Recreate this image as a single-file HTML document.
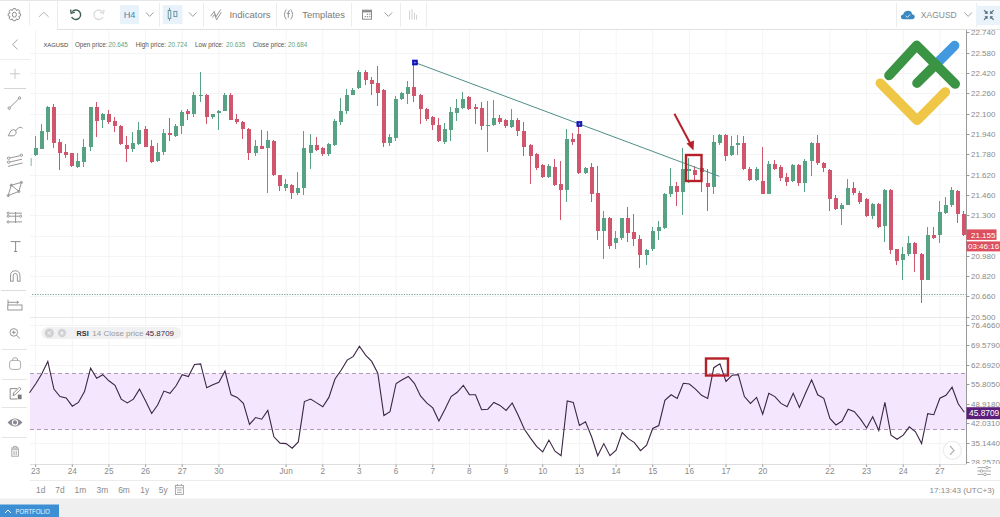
<!DOCTYPE html>
<html><head><meta charset="utf-8"><style>
html,body{margin:0;padding:0;background:#fff;}
body{width:1000px;height:517px;overflow:hidden;font-family:"Liberation Sans", sans-serif;}
svg{display:block;font-family:"Liberation Sans", sans-serif;}
</style></head><body>
<svg width="1000" height="517" viewBox="0 0 1000 517">
<line x1="35.6" y1="30" x2="35.6" y2="464" stroke="#f4f4f4" stroke-width="1"/>
<line x1="72.3" y1="30" x2="72.3" y2="464" stroke="#f4f4f4" stroke-width="1"/>
<line x1="108.9" y1="30" x2="108.9" y2="464" stroke="#f4f4f4" stroke-width="1"/>
<line x1="145.6" y1="30" x2="145.6" y2="464" stroke="#f4f4f4" stroke-width="1"/>
<line x1="182.2" y1="30" x2="182.2" y2="464" stroke="#f4f4f4" stroke-width="1"/>
<line x1="218.9" y1="30" x2="218.9" y2="464" stroke="#f4f4f4" stroke-width="1"/>
<line x1="286.1" y1="30" x2="286.1" y2="464" stroke="#f4f4f4" stroke-width="1"/>
<line x1="322.8" y1="30" x2="322.8" y2="464" stroke="#f4f4f4" stroke-width="1"/>
<line x1="359.4" y1="30" x2="359.4" y2="464" stroke="#f4f4f4" stroke-width="1"/>
<line x1="396.1" y1="30" x2="396.1" y2="464" stroke="#f4f4f4" stroke-width="1"/>
<line x1="432.8" y1="30" x2="432.8" y2="464" stroke="#f4f4f4" stroke-width="1"/>
<line x1="469.4" y1="30" x2="469.4" y2="464" stroke="#f4f4f4" stroke-width="1"/>
<line x1="506.1" y1="30" x2="506.1" y2="464" stroke="#f4f4f4" stroke-width="1"/>
<line x1="542.7" y1="30" x2="542.7" y2="464" stroke="#f4f4f4" stroke-width="1"/>
<line x1="579.4" y1="30" x2="579.4" y2="464" stroke="#f4f4f4" stroke-width="1"/>
<line x1="616.1" y1="30" x2="616.1" y2="464" stroke="#f4f4f4" stroke-width="1"/>
<line x1="652.7" y1="30" x2="652.7" y2="464" stroke="#f4f4f4" stroke-width="1"/>
<line x1="689.4" y1="30" x2="689.4" y2="464" stroke="#f4f4f4" stroke-width="1"/>
<line x1="726.0" y1="30" x2="726.0" y2="464" stroke="#f4f4f4" stroke-width="1"/>
<line x1="762.7" y1="30" x2="762.7" y2="464" stroke="#f4f4f4" stroke-width="1"/>
<line x1="829.9" y1="30" x2="829.9" y2="464" stroke="#f4f4f4" stroke-width="1"/>
<line x1="866.6" y1="30" x2="866.6" y2="464" stroke="#f4f4f4" stroke-width="1"/>
<line x1="903.2" y1="30" x2="903.2" y2="464" stroke="#f4f4f4" stroke-width="1"/>
<line x1="939.9" y1="30" x2="939.9" y2="464" stroke="#f4f4f4" stroke-width="1"/>
<line x1="30" y1="53.5" x2="966" y2="53.5" stroke="#f4f4f4" stroke-width="1"/>
<line x1="30" y1="73.5" x2="966" y2="73.5" stroke="#f4f4f4" stroke-width="1"/>
<line x1="30" y1="93.5" x2="966" y2="93.5" stroke="#f4f4f4" stroke-width="1"/>
<line x1="30" y1="114.5" x2="966" y2="114.5" stroke="#f4f4f4" stroke-width="1"/>
<line x1="30" y1="134.5" x2="966" y2="134.5" stroke="#f4f4f4" stroke-width="1"/>
<line x1="30" y1="154.5" x2="966" y2="154.5" stroke="#f4f4f4" stroke-width="1"/>
<line x1="30" y1="175.5" x2="966" y2="175.5" stroke="#f4f4f4" stroke-width="1"/>
<line x1="30" y1="195.5" x2="966" y2="195.5" stroke="#f4f4f4" stroke-width="1"/>
<line x1="30" y1="215.5" x2="966" y2="215.5" stroke="#f4f4f4" stroke-width="1"/>
<line x1="30" y1="236.5" x2="966" y2="236.5" stroke="#f4f4f4" stroke-width="1"/>
<line x1="30" y1="256.5" x2="966" y2="256.5" stroke="#f4f4f4" stroke-width="1"/>
<line x1="30" y1="276.5" x2="966" y2="276.5" stroke="#f4f4f4" stroke-width="1"/>
<line x1="30" y1="296.5" x2="966" y2="296.5" stroke="#f4f4f4" stroke-width="1"/>
<line x1="30" y1="317.5" x2="966" y2="317.5" stroke="#f4f4f4" stroke-width="1"/>
<line x1="30" y1="325.5" x2="966" y2="325.5" stroke="#f4f4f4" stroke-width="1"/>
<line x1="30" y1="345.5" x2="966" y2="345.5" stroke="#f4f4f4" stroke-width="1"/>
<line x1="30" y1="365.5" x2="966" y2="365.5" stroke="#f4f4f4" stroke-width="1"/>
<line x1="30" y1="384.5" x2="966" y2="384.5" stroke="#f4f4f4" stroke-width="1"/>
<line x1="30" y1="404.5" x2="966" y2="404.5" stroke="#f4f4f4" stroke-width="1"/>
<line x1="30" y1="423.5" x2="966" y2="423.5" stroke="#f4f4f4" stroke-width="1"/>
<line x1="30" y1="443.5" x2="966" y2="443.5" stroke="#f4f4f4" stroke-width="1"/>
<line x1="30" y1="317.5" x2="966" y2="317.5" stroke="#e8e8e8" stroke-width="1"/>
<line x1="32" y1="294.5" x2="966" y2="294.5" stroke="#7aa8a0" stroke-width="1" stroke-dasharray="1.3 1.3"/>
<rect x="30" y="373.5" width="936" height="56" fill="#f4e6fc"/>
<line x1="30" y1="373.5" x2="966" y2="373.5" stroke="#b09ab8" stroke-width="1" stroke-dasharray="4 3"/>
<line x1="30" y1="429.5" x2="966" y2="429.5" stroke="#b09ab8" stroke-width="1" stroke-dasharray="4 3"/>
<polyline points="29.5,392.8 35.6,384.0 41.7,374.0 47.8,361.4 53.9,389.1 60.0,396.6 66.2,397.9 72.3,406.2 78.4,402.4 84.5,391.6 90.6,368.2 96.7,378.2 102.8,374.7 108.9,380.8 115.0,385.3 121.2,399.1 127.3,402.9 133.4,399.1 139.5,389.1 145.6,400.9 151.7,413.5 157.8,404.7 163.9,391.1 170.0,393.3 176.1,385.8 182.2,374.7 188.4,376.5 194.5,364.4 200.6,363.9 206.7,387.8 212.8,384.8 218.9,382.3 225.0,371.0 231.1,394.8 237.2,397.4 243.4,403.4 249.5,424.3 255.6,417.5 261.7,419.2 267.8,410.4 273.9,436.8 280.0,443.1 286.1,443.6 292.2,448.2 298.3,441.9 304.4,401.6 310.6,399.1 316.7,402.9 322.8,406.7 328.9,397.4 335.0,379.0 341.1,370.2 347.2,360.1 353.3,356.4 359.4,346.3 365.6,355.1 371.7,361.4 377.8,373.2 383.9,415.5 390.0,411.7 396.1,383.5 402.2,379.8 408.3,376.5 414.4,383.3 420.5,395.9 426.7,402.9 432.8,407.9 438.9,421.0 445.0,409.2 451.1,396.6 457.2,392.3 463.3,385.3 469.4,394.6 475.5,394.8 481.6,409.7 487.8,409.2 493.9,402.4 500.0,405.4 506.1,410.4 512.2,402.9 518.3,415.5 524.4,429.3 530.5,438.1 536.6,446.4 542.7,451.9 548.9,440.1 555.0,451.2 561.1,455.7 567.2,400.9 573.3,402.4 579.4,425.5 585.5,421.7 591.6,436.8 597.7,455.7 603.8,443.6 610.0,455.7 616.1,450.2 622.2,432.6 628.3,438.6 634.4,442.6 640.5,450.7 646.6,445.1 652.7,428.5 658.8,425.5 664.9,400.4 671.1,394.8 677.2,398.4 683.3,383.3 689.4,384.0 695.5,389.1 701.6,395.3 707.7,398.4 713.8,367.7 719.9,363.9 726.0,381.5 732.2,375.2 738.3,374.7 744.4,396.6 750.5,403.4 756.6,397.4 762.7,414.2 768.8,393.3 774.9,396.6 781.0,403.4 787.1,406.7 793.2,393.3 799.4,407.4 805.5,393.3 811.6,379.8 817.7,394.8 823.8,398.4 829.9,418.5 836.0,425.0 842.1,421.0 848.2,409.2 854.4,411.7 860.5,419.2 866.6,428.0 872.7,416.7 878.8,430.5 884.9,402.4 891.0,435.1 897.1,439.3 903.2,435.1 909.3,426.8 915.5,431.8 921.6,443.6 927.7,413.6 933.8,414.7 939.9,398.2 946.0,395.3 952.1,387.2 958.2,403.7 964.3,412.2" fill="none" stroke="#3c2545" stroke-width="1.1"/>
<clipPath id="cc"><rect x="30.5" y="30" width="936" height="288"/></clipPath><g clip-path="url(#cc)">
<line x1="31" y1="158" x2="31" y2="166" stroke="#56a283" stroke-width="1"/>
<line x1="35.5" y1="136" x2="35.5" y2="156" stroke="#56a283" stroke-width="1"/>
<rect x="34" y="148" width="4" height="7" fill="#56a283"/>
<line x1="41.5" y1="124" x2="41.5" y2="149" stroke="#56a283" stroke-width="1"/>
<rect x="40" y="131" width="4" height="18" fill="#56a283"/>
<line x1="47.5" y1="106" x2="47.5" y2="140" stroke="#56a283" stroke-width="1"/>
<rect x="46" y="107" width="4" height="25" fill="#56a283"/>
<line x1="53.5" y1="104" x2="53.5" y2="148" stroke="#cf566d" stroke-width="1"/>
<rect x="52" y="107" width="4" height="36" fill="#cf566d"/>
<line x1="59.5" y1="139" x2="59.5" y2="170" stroke="#cf566d" stroke-width="1"/>
<rect x="58" y="142" width="4" height="11" fill="#cf566d"/>
<line x1="65.5" y1="144" x2="65.5" y2="158" stroke="#cf566d" stroke-width="1"/>
<rect x="64" y="152" width="4" height="3" fill="#cf566d"/>
<line x1="71.5" y1="153" x2="71.5" y2="167" stroke="#cf566d" stroke-width="1"/>
<rect x="70" y="153" width="4" height="13" fill="#cf566d"/>
<line x1="77.5" y1="153" x2="77.5" y2="168" stroke="#56a283" stroke-width="1"/>
<rect x="76" y="161" width="4" height="6" fill="#56a283"/>
<line x1="83.5" y1="139" x2="83.5" y2="167" stroke="#56a283" stroke-width="1"/>
<rect x="82" y="147" width="4" height="15" fill="#56a283"/>
<line x1="90.5" y1="107" x2="90.5" y2="151" stroke="#56a283" stroke-width="1"/>
<rect x="89" y="107" width="4" height="40" fill="#56a283"/>
<line x1="96.5" y1="102" x2="96.5" y2="137" stroke="#cf566d" stroke-width="1"/>
<rect x="95" y="107" width="4" height="14" fill="#cf566d"/>
<line x1="102.5" y1="113" x2="102.5" y2="128" stroke="#56a283" stroke-width="1"/>
<rect x="101" y="114" width="4" height="6" fill="#56a283"/>
<line x1="108.5" y1="110" x2="108.5" y2="124" stroke="#cf566d" stroke-width="1"/>
<rect x="107" y="114" width="4" height="8" fill="#cf566d"/>
<line x1="114.5" y1="117" x2="114.5" y2="132" stroke="#cf566d" stroke-width="1"/>
<rect x="113" y="121" width="4" height="5" fill="#cf566d"/>
<line x1="120.5" y1="125" x2="120.5" y2="145" stroke="#cf566d" stroke-width="1"/>
<rect x="119" y="126" width="4" height="18" fill="#cf566d"/>
<line x1="126.5" y1="136" x2="126.5" y2="162" stroke="#cf566d" stroke-width="1"/>
<rect x="125" y="145" width="4" height="4" fill="#cf566d"/>
<line x1="132.5" y1="132" x2="132.5" y2="152" stroke="#56a283" stroke-width="1"/>
<rect x="131" y="143" width="4" height="6" fill="#56a283"/>
<line x1="138.5" y1="122" x2="138.5" y2="145" stroke="#56a283" stroke-width="1"/>
<rect x="137" y="130" width="4" height="14" fill="#56a283"/>
<line x1="145.5" y1="126" x2="145.5" y2="147" stroke="#cf566d" stroke-width="1"/>
<rect x="144" y="129" width="4" height="18" fill="#cf566d"/>
<line x1="151.5" y1="140" x2="151.5" y2="163" stroke="#cf566d" stroke-width="1"/>
<rect x="150" y="146" width="4" height="16" fill="#cf566d"/>
<line x1="157.5" y1="143" x2="157.5" y2="162" stroke="#56a283" stroke-width="1"/>
<rect x="156" y="152" width="4" height="9" fill="#56a283"/>
<line x1="163.5" y1="129" x2="163.5" y2="155" stroke="#56a283" stroke-width="1"/>
<rect x="162" y="133" width="4" height="19" fill="#56a283"/>
<line x1="169.5" y1="118" x2="169.5" y2="141" stroke="#cf566d" stroke-width="1"/>
<rect x="168" y="133" width="4" height="2" fill="#cf566d"/>
<line x1="175.5" y1="124" x2="175.5" y2="137" stroke="#56a283" stroke-width="1"/>
<rect x="174" y="126" width="4" height="10" fill="#56a283"/>
<line x1="181.5" y1="110" x2="181.5" y2="134" stroke="#56a283" stroke-width="1"/>
<rect x="180" y="112" width="4" height="14" fill="#56a283"/>
<line x1="187.5" y1="109" x2="187.5" y2="120" stroke="#cf566d" stroke-width="1"/>
<rect x="186" y="111" width="4" height="3" fill="#cf566d"/>
<line x1="193.5" y1="92" x2="193.5" y2="117" stroke="#56a283" stroke-width="1"/>
<rect x="192" y="95" width="4" height="19" fill="#56a283"/>
<line x1="200.5" y1="72" x2="200.5" y2="102" stroke="#56a283" stroke-width="1"/>
<rect x="199" y="95" width="4" height="1" fill="#56a283"/>
<line x1="206.5" y1="94" x2="206.5" y2="124" stroke="#cf566d" stroke-width="1"/>
<rect x="205" y="95" width="4" height="22" fill="#cf566d"/>
<line x1="212.5" y1="114" x2="212.5" y2="119" stroke="#56a283" stroke-width="1"/>
<rect x="211" y="114" width="4" height="3" fill="#56a283"/>
<line x1="218.5" y1="110" x2="218.5" y2="130" stroke="#56a283" stroke-width="1"/>
<rect x="217" y="111" width="4" height="2" fill="#56a283"/>
<line x1="224.5" y1="93" x2="224.5" y2="111" stroke="#56a283" stroke-width="1"/>
<rect x="223" y="95" width="4" height="16" fill="#56a283"/>
<line x1="230.5" y1="93" x2="230.5" y2="120" stroke="#cf566d" stroke-width="1"/>
<rect x="229" y="95" width="4" height="25" fill="#cf566d"/>
<line x1="236.5" y1="114" x2="236.5" y2="124" stroke="#cf566d" stroke-width="1"/>
<rect x="235" y="119" width="4" height="3" fill="#cf566d"/>
<line x1="242.5" y1="121" x2="242.5" y2="139" stroke="#cf566d" stroke-width="1"/>
<rect x="241" y="122" width="4" height="7" fill="#cf566d"/>
<line x1="248.5" y1="128" x2="248.5" y2="160" stroke="#cf566d" stroke-width="1"/>
<rect x="247" y="129" width="4" height="24" fill="#cf566d"/>
<line x1="255.5" y1="140" x2="255.5" y2="156" stroke="#56a283" stroke-width="1"/>
<rect x="254" y="146" width="4" height="7" fill="#56a283"/>
<line x1="261.5" y1="130" x2="261.5" y2="149" stroke="#cf566d" stroke-width="1"/>
<rect x="260" y="146" width="4" height="3" fill="#cf566d"/>
<line x1="267.5" y1="131" x2="267.5" y2="193" stroke="#56a283" stroke-width="1"/>
<rect x="266" y="140" width="4" height="8" fill="#56a283"/>
<line x1="273.5" y1="140" x2="273.5" y2="176" stroke="#cf566d" stroke-width="1"/>
<rect x="272" y="141" width="4" height="34" fill="#cf566d"/>
<line x1="279.5" y1="175" x2="279.5" y2="191" stroke="#cf566d" stroke-width="1"/>
<rect x="278" y="175" width="4" height="11" fill="#cf566d"/>
<line x1="285.5" y1="179" x2="285.5" y2="191" stroke="#56a283" stroke-width="1"/>
<rect x="284" y="184" width="4" height="4" fill="#56a283"/>
<line x1="291.5" y1="184" x2="291.5" y2="199" stroke="#cf566d" stroke-width="1"/>
<rect x="290" y="185" width="4" height="8" fill="#cf566d"/>
<line x1="297.5" y1="172" x2="297.5" y2="195" stroke="#56a283" stroke-width="1"/>
<rect x="296" y="188" width="4" height="5" fill="#56a283"/>
<line x1="303.5" y1="131" x2="303.5" y2="195" stroke="#56a283" stroke-width="1"/>
<rect x="302" y="148" width="4" height="40" fill="#56a283"/>
<line x1="310.5" y1="134" x2="310.5" y2="169" stroke="#56a283" stroke-width="1"/>
<rect x="309" y="145" width="4" height="8" fill="#56a283"/>
<line x1="316.5" y1="137" x2="316.5" y2="151" stroke="#cf566d" stroke-width="1"/>
<rect x="315" y="145" width="4" height="5" fill="#cf566d"/>
<line x1="322.5" y1="147" x2="322.5" y2="156" stroke="#cf566d" stroke-width="1"/>
<rect x="321" y="148" width="4" height="6" fill="#cf566d"/>
<line x1="328.5" y1="143" x2="328.5" y2="156" stroke="#56a283" stroke-width="1"/>
<rect x="327" y="144" width="4" height="10" fill="#56a283"/>
<line x1="334.5" y1="119" x2="334.5" y2="146" stroke="#56a283" stroke-width="1"/>
<rect x="333" y="121" width="4" height="24" fill="#56a283"/>
<line x1="340.5" y1="98" x2="340.5" y2="125" stroke="#56a283" stroke-width="1"/>
<rect x="339" y="111" width="4" height="11" fill="#56a283"/>
<line x1="346.5" y1="89" x2="346.5" y2="114" stroke="#56a283" stroke-width="1"/>
<rect x="345" y="95" width="4" height="16" fill="#56a283"/>
<line x1="352.5" y1="88" x2="352.5" y2="95" stroke="#56a283" stroke-width="1"/>
<rect x="351" y="90" width="4" height="5" fill="#56a283"/>
<line x1="358.5" y1="70" x2="358.5" y2="89" stroke="#56a283" stroke-width="1"/>
<rect x="357" y="72" width="4" height="16" fill="#56a283"/>
<line x1="365.5" y1="70" x2="365.5" y2="85" stroke="#cf566d" stroke-width="1"/>
<rect x="364" y="72" width="4" height="8" fill="#cf566d"/>
<line x1="371.5" y1="77" x2="371.5" y2="95" stroke="#cf566d" stroke-width="1"/>
<rect x="370" y="80" width="4" height="4" fill="#cf566d"/>
<line x1="377.5" y1="66" x2="377.5" y2="106" stroke="#cf566d" stroke-width="1"/>
<rect x="376" y="83" width="4" height="10" fill="#cf566d"/>
<line x1="383.5" y1="89" x2="383.5" y2="147" stroke="#cf566d" stroke-width="1"/>
<rect x="382" y="90" width="4" height="53" fill="#cf566d"/>
<line x1="389.5" y1="134" x2="389.5" y2="146" stroke="#56a283" stroke-width="1"/>
<rect x="388" y="137" width="4" height="6" fill="#56a283"/>
<line x1="395.5" y1="96" x2="395.5" y2="141" stroke="#56a283" stroke-width="1"/>
<rect x="394" y="99" width="4" height="39" fill="#56a283"/>
<line x1="401.5" y1="92" x2="401.5" y2="100" stroke="#56a283" stroke-width="1"/>
<rect x="400" y="93" width="4" height="6" fill="#56a283"/>
<line x1="407.5" y1="81" x2="407.5" y2="104" stroke="#56a283" stroke-width="1"/>
<rect x="406" y="87" width="4" height="7" fill="#56a283"/>
<line x1="413.5" y1="62" x2="413.5" y2="102" stroke="#cf566d" stroke-width="1"/>
<rect x="412" y="87" width="4" height="9" fill="#cf566d"/>
<line x1="420.5" y1="94" x2="420.5" y2="124" stroke="#cf566d" stroke-width="1"/>
<rect x="419" y="95" width="4" height="14" fill="#cf566d"/>
<line x1="426.5" y1="108" x2="426.5" y2="121" stroke="#cf566d" stroke-width="1"/>
<rect x="425" y="109" width="4" height="10" fill="#cf566d"/>
<line x1="432.5" y1="116" x2="432.5" y2="130" stroke="#cf566d" stroke-width="1"/>
<rect x="431" y="117" width="4" height="8" fill="#cf566d"/>
<line x1="438.5" y1="118" x2="438.5" y2="142" stroke="#cf566d" stroke-width="1"/>
<rect x="437" y="125" width="4" height="16" fill="#cf566d"/>
<line x1="444.5" y1="123" x2="444.5" y2="144" stroke="#56a283" stroke-width="1"/>
<rect x="443" y="129" width="4" height="13" fill="#56a283"/>
<line x1="450.5" y1="107" x2="450.5" y2="141" stroke="#56a283" stroke-width="1"/>
<rect x="449" y="112" width="4" height="18" fill="#56a283"/>
<line x1="456.5" y1="99" x2="456.5" y2="121" stroke="#56a283" stroke-width="1"/>
<rect x="455" y="108" width="4" height="5" fill="#56a283"/>
<line x1="462.5" y1="92" x2="462.5" y2="109" stroke="#56a283" stroke-width="1"/>
<rect x="461" y="99" width="4" height="9" fill="#56a283"/>
<line x1="468.5" y1="96" x2="468.5" y2="110" stroke="#cf566d" stroke-width="1"/>
<rect x="467" y="97" width="4" height="12" fill="#cf566d"/>
<line x1="475.5" y1="104" x2="475.5" y2="124" stroke="#cf566d" stroke-width="1"/>
<rect x="474" y="107" width="4" height="2" fill="#cf566d"/>
<line x1="481.5" y1="102" x2="481.5" y2="130" stroke="#cf566d" stroke-width="1"/>
<rect x="480" y="108" width="4" height="18" fill="#cf566d"/>
<line x1="487.5" y1="101" x2="487.5" y2="152" stroke="#56a283" stroke-width="1"/>
<rect x="486" y="125" width="4" height="1" fill="#56a283"/>
<line x1="493.5" y1="100" x2="493.5" y2="126" stroke="#56a283" stroke-width="1"/>
<rect x="492" y="118" width="4" height="7" fill="#56a283"/>
<line x1="499.5" y1="115" x2="499.5" y2="124" stroke="#cf566d" stroke-width="1"/>
<rect x="498" y="118" width="4" height="4" fill="#cf566d"/>
<line x1="505.5" y1="119" x2="505.5" y2="128" stroke="#cf566d" stroke-width="1"/>
<rect x="504" y="120" width="4" height="6" fill="#cf566d"/>
<line x1="511.5" y1="109" x2="511.5" y2="128" stroke="#56a283" stroke-width="1"/>
<rect x="510" y="120" width="4" height="7" fill="#56a283"/>
<line x1="517.5" y1="118" x2="517.5" y2="136" stroke="#cf566d" stroke-width="1"/>
<rect x="516" y="120" width="4" height="11" fill="#cf566d"/>
<line x1="523.5" y1="122" x2="523.5" y2="156" stroke="#cf566d" stroke-width="1"/>
<rect x="522" y="131" width="4" height="16" fill="#cf566d"/>
<line x1="530.5" y1="144" x2="530.5" y2="184" stroke="#cf566d" stroke-width="1"/>
<rect x="529" y="145" width="4" height="11" fill="#cf566d"/>
<line x1="536.5" y1="153" x2="536.5" y2="170" stroke="#cf566d" stroke-width="1"/>
<rect x="535" y="154" width="4" height="14" fill="#cf566d"/>
<line x1="542.5" y1="164" x2="542.5" y2="178" stroke="#cf566d" stroke-width="1"/>
<rect x="541" y="165" width="4" height="12" fill="#cf566d"/>
<line x1="548.5" y1="164" x2="548.5" y2="178" stroke="#56a283" stroke-width="1"/>
<rect x="547" y="166" width="4" height="11" fill="#56a283"/>
<line x1="554.5" y1="159" x2="554.5" y2="186" stroke="#cf566d" stroke-width="1"/>
<rect x="553" y="167" width="4" height="18" fill="#cf566d"/>
<line x1="560.5" y1="161" x2="560.5" y2="220" stroke="#cf566d" stroke-width="1"/>
<rect x="559" y="184" width="4" height="6" fill="#cf566d"/>
<line x1="566.5" y1="129" x2="566.5" y2="202" stroke="#56a283" stroke-width="1"/>
<rect x="565" y="139" width="4" height="51" fill="#56a283"/>
<line x1="572.5" y1="133" x2="572.5" y2="145" stroke="#cf566d" stroke-width="1"/>
<rect x="571" y="139" width="4" height="3" fill="#cf566d"/>
<line x1="578.5" y1="124" x2="578.5" y2="174" stroke="#cf566d" stroke-width="1"/>
<rect x="577" y="134" width="4" height="39" fill="#cf566d"/>
<line x1="585.5" y1="167" x2="585.5" y2="174" stroke="#56a283" stroke-width="1"/>
<rect x="584" y="168" width="4" height="5" fill="#56a283"/>
<line x1="591.5" y1="163" x2="591.5" y2="202" stroke="#cf566d" stroke-width="1"/>
<rect x="590" y="167" width="4" height="27" fill="#cf566d"/>
<line x1="597.5" y1="166" x2="597.5" y2="240" stroke="#cf566d" stroke-width="1"/>
<rect x="596" y="193" width="4" height="38" fill="#cf566d"/>
<line x1="603.5" y1="211" x2="603.5" y2="259" stroke="#56a283" stroke-width="1"/>
<rect x="602" y="218" width="4" height="13" fill="#56a283"/>
<line x1="609.5" y1="217" x2="609.5" y2="249" stroke="#cf566d" stroke-width="1"/>
<rect x="608" y="218" width="4" height="28" fill="#cf566d"/>
<line x1="615.5" y1="231" x2="615.5" y2="249" stroke="#56a283" stroke-width="1"/>
<rect x="614" y="238" width="4" height="5" fill="#56a283"/>
<line x1="621.5" y1="218" x2="621.5" y2="240" stroke="#56a283" stroke-width="1"/>
<rect x="620" y="218" width="4" height="20" fill="#56a283"/>
<line x1="627.5" y1="207" x2="627.5" y2="242" stroke="#cf566d" stroke-width="1"/>
<rect x="626" y="218" width="4" height="15" fill="#cf566d"/>
<line x1="633.5" y1="214" x2="633.5" y2="246" stroke="#cf566d" stroke-width="1"/>
<rect x="632" y="232" width="4" height="7" fill="#cf566d"/>
<line x1="639.5" y1="235" x2="639.5" y2="268" stroke="#cf566d" stroke-width="1"/>
<rect x="638" y="239" width="4" height="16" fill="#cf566d"/>
<line x1="646.5" y1="249" x2="646.5" y2="265" stroke="#56a283" stroke-width="1"/>
<rect x="645" y="250" width="4" height="5" fill="#56a283"/>
<line x1="652.5" y1="227" x2="652.5" y2="251" stroke="#56a283" stroke-width="1"/>
<rect x="651" y="231" width="4" height="18" fill="#56a283"/>
<line x1="658.5" y1="221" x2="658.5" y2="240" stroke="#56a283" stroke-width="1"/>
<rect x="657" y="227" width="4" height="4" fill="#56a283"/>
<line x1="664.5" y1="193" x2="664.5" y2="229" stroke="#56a283" stroke-width="1"/>
<rect x="663" y="194" width="4" height="34" fill="#56a283"/>
<line x1="670.5" y1="168" x2="670.5" y2="197" stroke="#56a283" stroke-width="1"/>
<rect x="669" y="186" width="4" height="8" fill="#56a283"/>
<line x1="676.5" y1="182" x2="676.5" y2="206" stroke="#cf566d" stroke-width="1"/>
<rect x="675" y="186" width="4" height="6" fill="#cf566d"/>
<line x1="682.5" y1="148" x2="682.5" y2="215" stroke="#56a283" stroke-width="1"/>
<rect x="681" y="169" width="4" height="23" fill="#56a283"/>
<line x1="688.5" y1="158" x2="688.5" y2="183" stroke="#56a283" stroke-width="1"/>
<rect x="687" y="169" width="4" height="2" fill="#56a283"/>
<line x1="694.5" y1="166" x2="694.5" y2="181" stroke="#cf566d" stroke-width="1"/>
<rect x="693" y="170" width="4" height="5" fill="#cf566d"/>
<line x1="701.5" y1="167" x2="701.5" y2="192" stroke="#cf566d" stroke-width="1"/>
<rect x="700" y="168" width="4" height="4" fill="#cf566d"/>
<line x1="707.5" y1="169" x2="707.5" y2="211" stroke="#cf566d" stroke-width="1"/>
<rect x="706" y="183" width="4" height="4" fill="#cf566d"/>
<line x1="713.5" y1="135" x2="713.5" y2="194" stroke="#56a283" stroke-width="1"/>
<rect x="712" y="142" width="4" height="45" fill="#56a283"/>
<line x1="719.5" y1="134" x2="719.5" y2="145" stroke="#56a283" stroke-width="1"/>
<rect x="718" y="135" width="4" height="8" fill="#56a283"/>
<line x1="725.5" y1="134" x2="725.5" y2="161" stroke="#cf566d" stroke-width="1"/>
<rect x="724" y="135" width="4" height="21" fill="#cf566d"/>
<line x1="731.5" y1="136" x2="731.5" y2="156" stroke="#56a283" stroke-width="1"/>
<rect x="730" y="146" width="4" height="9" fill="#56a283"/>
<line x1="737.5" y1="135" x2="737.5" y2="155" stroke="#56a283" stroke-width="1"/>
<rect x="736" y="143" width="4" height="2" fill="#56a283"/>
<line x1="743.5" y1="136" x2="743.5" y2="170" stroke="#cf566d" stroke-width="1"/>
<rect x="742" y="143" width="4" height="26" fill="#cf566d"/>
<line x1="749.5" y1="167" x2="749.5" y2="181" stroke="#cf566d" stroke-width="1"/>
<rect x="748" y="169" width="4" height="11" fill="#cf566d"/>
<line x1="756.5" y1="167" x2="756.5" y2="181" stroke="#56a283" stroke-width="1"/>
<rect x="755" y="169" width="4" height="11" fill="#56a283"/>
<line x1="762.5" y1="147" x2="762.5" y2="194" stroke="#cf566d" stroke-width="1"/>
<rect x="761" y="181" width="4" height="13" fill="#cf566d"/>
<line x1="768.5" y1="161" x2="768.5" y2="194" stroke="#56a283" stroke-width="1"/>
<rect x="767" y="164" width="4" height="30" fill="#56a283"/>
<line x1="774.5" y1="160" x2="774.5" y2="170" stroke="#cf566d" stroke-width="1"/>
<rect x="773" y="164" width="4" height="5" fill="#cf566d"/>
<line x1="780.5" y1="165" x2="780.5" y2="181" stroke="#cf566d" stroke-width="1"/>
<rect x="779" y="167" width="4" height="11" fill="#cf566d"/>
<line x1="786.5" y1="173" x2="786.5" y2="186" stroke="#cf566d" stroke-width="1"/>
<rect x="785" y="177" width="4" height="5" fill="#cf566d"/>
<line x1="792.5" y1="164" x2="792.5" y2="182" stroke="#56a283" stroke-width="1"/>
<rect x="791" y="165" width="4" height="16" fill="#56a283"/>
<line x1="798.5" y1="164" x2="798.5" y2="186" stroke="#cf566d" stroke-width="1"/>
<rect x="797" y="165" width="4" height="18" fill="#cf566d"/>
<line x1="804.5" y1="159" x2="804.5" y2="192" stroke="#56a283" stroke-width="1"/>
<rect x="803" y="161" width="4" height="22" fill="#56a283"/>
<line x1="811.5" y1="142" x2="811.5" y2="176" stroke="#56a283" stroke-width="1"/>
<rect x="810" y="143" width="4" height="18" fill="#56a283"/>
<line x1="817.5" y1="135" x2="817.5" y2="165" stroke="#cf566d" stroke-width="1"/>
<rect x="816" y="143" width="4" height="20" fill="#cf566d"/>
<line x1="823.5" y1="162" x2="823.5" y2="172" stroke="#cf566d" stroke-width="1"/>
<rect x="822" y="163" width="4" height="5" fill="#cf566d"/>
<line x1="829.5" y1="169" x2="829.5" y2="211" stroke="#cf566d" stroke-width="1"/>
<rect x="828" y="170" width="4" height="29" fill="#cf566d"/>
<line x1="835.5" y1="195" x2="835.5" y2="210" stroke="#cf566d" stroke-width="1"/>
<rect x="834" y="198" width="4" height="11" fill="#cf566d"/>
<line x1="841.5" y1="203" x2="841.5" y2="225" stroke="#56a283" stroke-width="1"/>
<rect x="840" y="205" width="4" height="4" fill="#56a283"/>
<line x1="847.5" y1="179" x2="847.5" y2="205" stroke="#56a283" stroke-width="1"/>
<rect x="846" y="188" width="4" height="17" fill="#56a283"/>
<line x1="853.5" y1="182" x2="853.5" y2="195" stroke="#cf566d" stroke-width="1"/>
<rect x="852" y="188" width="4" height="5" fill="#cf566d"/>
<line x1="859.5" y1="191" x2="859.5" y2="204" stroke="#cf566d" stroke-width="1"/>
<rect x="858" y="193" width="4" height="9" fill="#cf566d"/>
<line x1="866.5" y1="198" x2="866.5" y2="217" stroke="#cf566d" stroke-width="1"/>
<rect x="865" y="199" width="4" height="17" fill="#cf566d"/>
<line x1="872.5" y1="203" x2="872.5" y2="219" stroke="#56a283" stroke-width="1"/>
<rect x="871" y="204" width="4" height="12" fill="#56a283"/>
<line x1="878.5" y1="203" x2="878.5" y2="228" stroke="#cf566d" stroke-width="1"/>
<rect x="877" y="204" width="4" height="23" fill="#cf566d"/>
<line x1="884.5" y1="189" x2="884.5" y2="242" stroke="#56a283" stroke-width="1"/>
<rect x="883" y="190" width="4" height="36" fill="#56a283"/>
<line x1="890.5" y1="189" x2="890.5" y2="254" stroke="#cf566d" stroke-width="1"/>
<rect x="889" y="190" width="4" height="60" fill="#cf566d"/>
<line x1="896.5" y1="249" x2="896.5" y2="265" stroke="#cf566d" stroke-width="1"/>
<rect x="895" y="249" width="4" height="12" fill="#cf566d"/>
<line x1="902.5" y1="247" x2="902.5" y2="280" stroke="#56a283" stroke-width="1"/>
<rect x="901" y="254" width="4" height="6" fill="#56a283"/>
<line x1="908.5" y1="236" x2="908.5" y2="256" stroke="#56a283" stroke-width="1"/>
<rect x="907" y="243" width="4" height="11" fill="#56a283"/>
<line x1="914.5" y1="242" x2="914.5" y2="272" stroke="#cf566d" stroke-width="1"/>
<rect x="913" y="243" width="4" height="11" fill="#cf566d"/>
<line x1="921.5" y1="253" x2="921.5" y2="303" stroke="#cf566d" stroke-width="1"/>
<rect x="920" y="254" width="4" height="26" fill="#cf566d"/>
<line x1="927.5" y1="227" x2="927.5" y2="280" stroke="#56a283" stroke-width="1"/>
<rect x="926" y="235" width="4" height="45" fill="#56a283"/>
<line x1="933.5" y1="227" x2="933.5" y2="239" stroke="#cf566d" stroke-width="1"/>
<rect x="932" y="235" width="4" height="3" fill="#cf566d"/>
<line x1="939.5" y1="201" x2="939.5" y2="243" stroke="#56a283" stroke-width="1"/>
<rect x="938" y="212" width="4" height="23" fill="#56a283"/>
<line x1="945.5" y1="197" x2="945.5" y2="214" stroke="#56a283" stroke-width="1"/>
<rect x="944" y="205" width="4" height="8" fill="#56a283"/>
<line x1="951.5" y1="187" x2="951.5" y2="207" stroke="#56a283" stroke-width="1"/>
<rect x="950" y="190" width="4" height="15" fill="#56a283"/>
<line x1="957.5" y1="190" x2="957.5" y2="223" stroke="#cf566d" stroke-width="1"/>
<rect x="956" y="191" width="4" height="23" fill="#cf566d"/>
<line x1="963.5" y1="211" x2="963.5" y2="236" stroke="#cf566d" stroke-width="1"/>
<rect x="962" y="214" width="4" height="21" fill="#cf566d"/>
</g>
<line x1="414.9" y1="62.5" x2="719.3" y2="176.3" stroke="#4f8f87" stroke-width="1"/>
<rect x="412.4" y="60.0" width="5" height="5" fill="#1a1aa8" stroke="#0000cc" stroke-width="0.6"/>
<rect x="414.2" y="61.8" width="1.4" height="1.4" fill="#9aa8ff"/>
<rect x="576.9" y="121.5" width="5" height="5" fill="#1a1aa8" stroke="#0000cc" stroke-width="0.6"/>
<rect x="578.6999999999999" y="123.3" width="1.4" height="1.4" fill="#9aa8ff"/>
<rect x="686" y="155" width="15.5" height="26" fill="none" stroke="#b52029" stroke-width="2.4"/>
<line x1="674.4" y1="113.7" x2="690" y2="143" stroke="#b52029" stroke-width="2"/>
<path d="M686.5,143.5 L693.5,150.5 L694,140.5 Z" fill="#b52029"/>
<rect x="706" y="358.5" width="22" height="17" fill="none" stroke="#b52029" stroke-width="2.4"/>
<line x1="966.5" y1="30" x2="966.5" y2="464" stroke="#9a9a9a" stroke-width="1"/>
<clipPath id="cpm"><rect x="960" y="29.5" width="40" height="292"/></clipPath><clipPath id="cpr"><rect x="960" y="319" width="40" height="145"/></clipPath>
<g clip-path="url(#cpm)">
<line x1="966.5" y1="32.5" x2="969.5" y2="32.5" stroke="#9a9a9a" stroke-width="1"/>
<text x="971" y="34.8" font-size="8" fill="#8a8a8a">22.740</text>
<line x1="966.5" y1="53.5" x2="969.5" y2="53.5" stroke="#9a9a9a" stroke-width="1"/>
<text x="971" y="55.8" font-size="8" fill="#8a8a8a">22.580</text>
<line x1="966.5" y1="73.5" x2="969.5" y2="73.5" stroke="#9a9a9a" stroke-width="1"/>
<text x="971" y="75.8" font-size="8" fill="#8a8a8a">22.420</text>
<line x1="966.5" y1="93.5" x2="969.5" y2="93.5" stroke="#9a9a9a" stroke-width="1"/>
<text x="971" y="95.8" font-size="8" fill="#8a8a8a">22.260</text>
<line x1="966.5" y1="114.5" x2="969.5" y2="114.5" stroke="#9a9a9a" stroke-width="1"/>
<text x="971" y="116.8" font-size="8" fill="#8a8a8a">22.100</text>
<line x1="966.5" y1="134.5" x2="969.5" y2="134.5" stroke="#9a9a9a" stroke-width="1"/>
<text x="971" y="136.8" font-size="8" fill="#8a8a8a">21.940</text>
<line x1="966.5" y1="154.5" x2="969.5" y2="154.5" stroke="#9a9a9a" stroke-width="1"/>
<text x="971" y="156.8" font-size="8" fill="#8a8a8a">21.780</text>
<line x1="966.5" y1="175.5" x2="969.5" y2="175.5" stroke="#9a9a9a" stroke-width="1"/>
<text x="971" y="177.8" font-size="8" fill="#8a8a8a">21.620</text>
<line x1="966.5" y1="195.5" x2="969.5" y2="195.5" stroke="#9a9a9a" stroke-width="1"/>
<text x="971" y="197.8" font-size="8" fill="#8a8a8a">21.460</text>
<line x1="966.5" y1="215.5" x2="969.5" y2="215.5" stroke="#9a9a9a" stroke-width="1"/>
<text x="971" y="217.8" font-size="8" fill="#8a8a8a">21.300</text>
<line x1="966.5" y1="256.5" x2="969.5" y2="256.5" stroke="#9a9a9a" stroke-width="1"/>
<text x="971" y="258.8" font-size="8" fill="#8a8a8a">20.980</text>
<line x1="966.5" y1="276.5" x2="969.5" y2="276.5" stroke="#9a9a9a" stroke-width="1"/>
<text x="971" y="278.8" font-size="8" fill="#8a8a8a">20.820</text>
<line x1="966.5" y1="296.5" x2="969.5" y2="296.5" stroke="#9a9a9a" stroke-width="1"/>
<text x="971" y="298.8" font-size="8" fill="#8a8a8a">20.660</text>
<line x1="966.5" y1="317.5" x2="969.5" y2="317.5" stroke="#9a9a9a" stroke-width="1"/>
<text x="971" y="319.8" font-size="8" fill="#8a8a8a">20.500</text>
</g><g clip-path="url(#cpr)">
<line x1="966.5" y1="325.5" x2="969.5" y2="325.5" stroke="#9a9a9a" stroke-width="1"/>
<text x="971" y="327.8" font-size="8" fill="#8a8a8a">76.4660</text>
<line x1="966.5" y1="345.5" x2="969.5" y2="345.5" stroke="#9a9a9a" stroke-width="1"/>
<text x="971" y="347.8" font-size="8" fill="#8a8a8a">69.5790</text>
<line x1="966.5" y1="365.5" x2="969.5" y2="365.5" stroke="#9a9a9a" stroke-width="1"/>
<text x="971" y="367.8" font-size="8" fill="#8a8a8a">62.6920</text>
<line x1="966.5" y1="384.5" x2="969.5" y2="384.5" stroke="#9a9a9a" stroke-width="1"/>
<text x="971" y="386.8" font-size="8" fill="#8a8a8a">55.8050</text>
<line x1="966.5" y1="404.5" x2="969.5" y2="404.5" stroke="#9a9a9a" stroke-width="1"/>
<text x="971" y="406.8" font-size="8" fill="#8a8a8a">48.9180</text>
<line x1="966.5" y1="423.5" x2="969.5" y2="423.5" stroke="#9a9a9a" stroke-width="1"/>
<text x="971" y="425.8" font-size="8" fill="#8a8a8a">42.0310</text>
<line x1="966.5" y1="443.5" x2="969.5" y2="443.5" stroke="#9a9a9a" stroke-width="1"/>
<text x="971" y="445.8" font-size="8" fill="#8a8a8a">35.1440</text>
<line x1="966.5" y1="462.5" x2="969.5" y2="462.5" stroke="#9a9a9a" stroke-width="1"/>
<text x="971" y="464.8" font-size="8" fill="#8a8a8a">28.2570</text>
</g>
<rect x="966.5" y="229.4" width="30" height="10.5" fill="#dd4f5f"/>
<text x="971" y="237.5" font-size="8" fill="#fff">21.155</text>
<rect x="966.5" y="241.4" width="33.5" height="10" fill="#dd4f5f"/>
<text x="968" y="249.3" font-size="8" fill="#fff">03:46:16</text>
<rect x="966.5" y="407.2" width="33.5" height="12" fill="#5b1f7a"/>
<text x="969" y="416.3" font-size="8.4" fill="#fff">45.8709</text>
<line x1="30" y1="464.5" x2="966.5" y2="464.5" stroke="#dedede" stroke-width="1"/>
<line x1="35.6" y1="464.5" x2="35.6" y2="467" stroke="#9a9a9a" stroke-width="1"/>
<text x="35.6" y="474.3" font-size="8.2" fill="#8a8a8a" text-anchor="middle">23</text>
<line x1="72.3" y1="464.5" x2="72.3" y2="467" stroke="#9a9a9a" stroke-width="1"/>
<text x="72.3" y="474.3" font-size="8.2" fill="#8a8a8a" text-anchor="middle">24</text>
<line x1="108.9" y1="464.5" x2="108.9" y2="467" stroke="#9a9a9a" stroke-width="1"/>
<text x="108.9" y="474.3" font-size="8.2" fill="#8a8a8a" text-anchor="middle">25</text>
<line x1="145.6" y1="464.5" x2="145.6" y2="467" stroke="#9a9a9a" stroke-width="1"/>
<text x="145.6" y="474.3" font-size="8.2" fill="#8a8a8a" text-anchor="middle">26</text>
<line x1="182.2" y1="464.5" x2="182.2" y2="467" stroke="#9a9a9a" stroke-width="1"/>
<text x="182.2" y="474.3" font-size="8.2" fill="#8a8a8a" text-anchor="middle">27</text>
<line x1="218.9" y1="464.5" x2="218.9" y2="467" stroke="#9a9a9a" stroke-width="1"/>
<text x="218.9" y="474.3" font-size="8.2" fill="#8a8a8a" text-anchor="middle">30</text>
<line x1="286.1" y1="464.5" x2="286.1" y2="467" stroke="#9a9a9a" stroke-width="1"/>
<text x="286.1" y="474.3" font-size="8.2" fill="#8a8a8a" text-anchor="middle">Jun</text>
<line x1="322.8" y1="464.5" x2="322.8" y2="467" stroke="#9a9a9a" stroke-width="1"/>
<text x="322.8" y="474.3" font-size="8.2" fill="#8a8a8a" text-anchor="middle">2</text>
<line x1="359.4" y1="464.5" x2="359.4" y2="467" stroke="#9a9a9a" stroke-width="1"/>
<text x="359.4" y="474.3" font-size="8.2" fill="#8a8a8a" text-anchor="middle">3</text>
<line x1="396.1" y1="464.5" x2="396.1" y2="467" stroke="#9a9a9a" stroke-width="1"/>
<text x="396.1" y="474.3" font-size="8.2" fill="#8a8a8a" text-anchor="middle">6</text>
<line x1="432.8" y1="464.5" x2="432.8" y2="467" stroke="#9a9a9a" stroke-width="1"/>
<text x="432.8" y="474.3" font-size="8.2" fill="#8a8a8a" text-anchor="middle">7</text>
<line x1="469.4" y1="464.5" x2="469.4" y2="467" stroke="#9a9a9a" stroke-width="1"/>
<text x="469.4" y="474.3" font-size="8.2" fill="#8a8a8a" text-anchor="middle">8</text>
<line x1="506.1" y1="464.5" x2="506.1" y2="467" stroke="#9a9a9a" stroke-width="1"/>
<text x="506.1" y="474.3" font-size="8.2" fill="#8a8a8a" text-anchor="middle">9</text>
<line x1="542.7" y1="464.5" x2="542.7" y2="467" stroke="#9a9a9a" stroke-width="1"/>
<text x="542.7" y="474.3" font-size="8.2" fill="#8a8a8a" text-anchor="middle">10</text>
<line x1="579.4" y1="464.5" x2="579.4" y2="467" stroke="#9a9a9a" stroke-width="1"/>
<text x="579.4" y="474.3" font-size="8.2" fill="#8a8a8a" text-anchor="middle">13</text>
<line x1="616.1" y1="464.5" x2="616.1" y2="467" stroke="#9a9a9a" stroke-width="1"/>
<text x="616.1" y="474.3" font-size="8.2" fill="#8a8a8a" text-anchor="middle">14</text>
<line x1="652.7" y1="464.5" x2="652.7" y2="467" stroke="#9a9a9a" stroke-width="1"/>
<text x="652.7" y="474.3" font-size="8.2" fill="#8a8a8a" text-anchor="middle">15</text>
<line x1="689.4" y1="464.5" x2="689.4" y2="467" stroke="#9a9a9a" stroke-width="1"/>
<text x="689.4" y="474.3" font-size="8.2" fill="#8a8a8a" text-anchor="middle">16</text>
<line x1="726.0" y1="464.5" x2="726.0" y2="467" stroke="#9a9a9a" stroke-width="1"/>
<text x="726.0" y="474.3" font-size="8.2" fill="#8a8a8a" text-anchor="middle">17</text>
<line x1="762.7" y1="464.5" x2="762.7" y2="467" stroke="#9a9a9a" stroke-width="1"/>
<text x="762.7" y="474.3" font-size="8.2" fill="#8a8a8a" text-anchor="middle">20</text>
<line x1="829.9" y1="464.5" x2="829.9" y2="467" stroke="#9a9a9a" stroke-width="1"/>
<text x="829.9" y="474.3" font-size="8.2" fill="#8a8a8a" text-anchor="middle">22</text>
<line x1="866.6" y1="464.5" x2="866.6" y2="467" stroke="#9a9a9a" stroke-width="1"/>
<text x="866.6" y="474.3" font-size="8.2" fill="#8a8a8a" text-anchor="middle">23</text>
<line x1="903.2" y1="464.5" x2="903.2" y2="467" stroke="#9a9a9a" stroke-width="1"/>
<text x="903.2" y="474.3" font-size="8.2" fill="#8a8a8a" text-anchor="middle">24</text>
<line x1="939.9" y1="464.5" x2="939.9" y2="467" stroke="#9a9a9a" stroke-width="1"/>
<text x="939.9" y="474.3" font-size="8.2" fill="#8a8a8a" text-anchor="middle">27</text>
<line x1="30" y1="480.5" x2="1000" y2="480.5" stroke="#ececec" stroke-width="1"/>
<text x="40.7" y="492.5" font-size="8.4" fill="#8a8a8a" text-anchor="middle">1d</text>
<text x="60" y="492.5" font-size="8.4" fill="#8a8a8a" text-anchor="middle">7d</text>
<text x="80.3" y="492.5" font-size="8.4" fill="#8a8a8a" text-anchor="middle">1m</text>
<text x="102.3" y="492.5" font-size="8.4" fill="#8a8a8a" text-anchor="middle">3m</text>
<text x="124" y="492.5" font-size="8.4" fill="#8a8a8a" text-anchor="middle">6m</text>
<text x="144.8" y="492.5" font-size="8.4" fill="#8a8a8a" text-anchor="middle">1y</text>
<text x="163.3" y="492.5" font-size="8.4" fill="#8a8a8a" text-anchor="middle">5y</text>
<text x="994.5" y="492.5" font-size="8.1" fill="#8a8a8a" text-anchor="end">17:13:43 (UTC+3)</text>
<rect x="0" y="498.5" width="1000" height="18.5" fill="#efefef"/>
<rect x="0" y="504.5" width="59" height="12.5" fill="#3d8fd4"/>
<path d="M5,513 L8,510 L11,513" fill="none" stroke="#fff" stroke-width="1"/>
<text x="15.6" y="514" font-size="6.6" fill="#eaf6ff" textLength="34.4" lengthAdjust="spacingAndGlyphs">PORTFOLIO</text>
<line x1="0" y1="0.5" x2="1000" y2="0.5" stroke="#e6e6e6" stroke-width="1"/>
<line x1="57" y1="29.5" x2="1000" y2="29.5" stroke="#e2e2e2" stroke-width="1"/>
<line x1="29.5" y1="2" x2="29.5" y2="25" stroke="#ececec" stroke-width="1"/>
<line x1="57.5" y1="0" x2="57.5" y2="29" stroke="#ececec" stroke-width="1"/>
<line x1="159.5" y1="3" x2="159.5" y2="27" stroke="#ececec" stroke-width="1"/>
<line x1="203.5" y1="3" x2="203.5" y2="27" stroke="#ececec" stroke-width="1"/>
<line x1="276.5" y1="3" x2="276.5" y2="27" stroke="#ececec" stroke-width="1"/>
<line x1="351.5" y1="3" x2="351.5" y2="27" stroke="#ececec" stroke-width="1"/>
<line x1="400.5" y1="3" x2="400.5" y2="27" stroke="#ececec" stroke-width="1"/>
<line x1="426.5" y1="3" x2="426.5" y2="27" stroke="#ececec" stroke-width="1"/>
<line x1="896.5" y1="3" x2="896.5" y2="27" stroke="#ececec" stroke-width="1"/>
<line x1="976.5" y1="3" x2="976.5" y2="27" stroke="#ececec" stroke-width="1"/>
<rect x="120" y="5.2" width="19" height="19" fill="#e8f2fa"/>
<rect x="162.7" y="5.2" width="19.8" height="19" fill="#e8f2fa"/>
<rect x="976" y="5.8" width="24" height="19.4" fill="#eaf3fa"/>
<text x="129.6" y="17.9" font-size="9.2" fill="#4b87ad" text-anchor="middle">H4</text>
<text x="229.4" y="17.7" font-size="9.5" fill="#7a7a7a">Indicators</text>
<text x="302.3" y="17.7" font-size="9.4" fill="#7a7a7a">Templates</text>
<text x="920.8" y="18.3" font-size="8.5" fill="#8a8a8a">XAGUSD</text>
<text x="43.4" y="47" font-size="5.9" fill="#444">XAGUSD</text>
<text x="74.9" y="47" font-size="6.3" fill="#555">Open price:</text>
<text x="108.5" y="47" font-size="6.3" fill="#5aa57f">20.645</text>
<text x="135.8" y="47" font-size="6.3" fill="#555">High price:</text>
<text x="168" y="47" font-size="6.3" fill="#5aa57f">20.724</text>
<text x="194.9" y="47" font-size="6.3" fill="#555">Low price:</text>
<text x="225.9" y="47" font-size="6.3" fill="#5aa57f">20.635</text>
<text x="252.8" y="47" font-size="6.3" fill="#555">Close price:</text>
<text x="288" y="47" font-size="6.3" fill="#5aa57f">20.684</text>
<rect x="41.4" y="327" width="140" height="12" rx="6" fill="#f1f1f3"/>
<circle cx="49.3" cy="333" r="4.6" fill="#d0d0d2"/><path d="M47.6,331.3 L51,334.7 M51,331.3 L47.6,334.7" stroke="#f4f4f4" stroke-width="1"/>
<circle cx="62" cy="333" r="4.2" fill="#d2d2d4"/><circle cx="62" cy="333" r="1.5" fill="#f1f1f3"/>
<text x="76.6" y="335.8" font-size="7.3" font-weight="bold" fill="#333">RSI</text>
<text x="92.3" y="335.8" font-size="8" fill="#999">14 Close price</text>
<text x="145.4" y="335.8" font-size="7.9" fill="#3a2a45">45.8709</text>
<circle cx="952.4" cy="450.4" r="9" fill="#fff" stroke="#ececec" stroke-width="1.2"/>
<path d="M950,446 L954,450.4 L950,454.8" fill="none" stroke="#b0b0b0" stroke-width="1.2"/>
<g fill="none" stroke-linecap="round" stroke-linejoin="round" stroke-width="9.6"><path d="M935.7,64.5 L954.6,45.6" stroke="#4299df"/><path d="M880.3,83.2 L917.1,120.3 L945.3,92" stroke="#f0c646"/><path d="M917,83.2 L935.7,64.5" stroke="#3b9443"/><path d="M889,75.5 L916.6,45.4 L955.2,84" stroke="#3b9443"/></g>
<g transform="translate(14.4,14.7)" fill="none" stroke="#8c8c8c" stroke-width="1"><path d="M-1.3,-6 L1.3,-6 L2,-4.2 L3.9,-5.1 L5.4,-3.3 L4.4,-1.6 L6.2,-0.9 L6.2,1.1 L4.4,1.7 L5.3,3.5 L3.7,5.1 L2,4.2 L1.3,6 L-1.3,6 L-2,4.2 L-3.8,5.1 L-5.4,3.4 L-4.4,1.7 L-6.2,1.1 L-6.2,-0.9 L-4.4,-1.6 L-5.3,-3.4 L-3.8,-5.1 L-2,-4.2 Z"/><ellipse cx="0" cy="0" rx="2" ry="2.5"/></g>
<path d="M39,16.8 L43.8,12.3 L48.6,16.8" fill="none" stroke="#b4b4b4" stroke-width="1"/>
<path d="M72.2,11.6 A4.8,4.8 0 1 1 71.6,17" fill="none" stroke="#3f5d57" stroke-width="1.4"/>
<path d="M70.6,9.6 L71.2,13.4 L74.8,12.2" fill="none" stroke="#3f5d57" stroke-width="1.4"/>
<path d="M102.4,11.6 A4.8,4.8 0 1 0 103,17" fill="none" stroke="#dcdcdc" stroke-width="1.4"/>
<path d="M104,9.6 L103.4,13.4 L99.8,12.2" fill="none" stroke="#dcdcdc" stroke-width="1.4"/>
<path d="M145.89999999999998,12.4 L149.7,16.4 L153.5,12.4" fill="none" stroke="#a0a0a0" stroke-width="1"/>
<path d="M189.0,12.4 L192.8,16.4 L196.60000000000002,12.4" fill="none" stroke="#a0a0a0" stroke-width="1"/>
<path d="M384.59999999999997,12.4 L388.4,16.4 L392.2,12.4" fill="none" stroke="#a0a0a0" stroke-width="1"/>
<path d="M964.4000000000001,12.4 L968.2,16.4 L972.0,12.4" fill="none" stroke="#a0a0a0" stroke-width="1"/>
<g stroke="#5f8f9c" stroke-width="0.9" fill="none"><line x1="169.5" y1="7.8" x2="169.5" y2="10.4"/><line x1="169.5" y1="18.4" x2="169.5" y2="20.8"/><rect x="168.2" y="10.4" width="2.6" height="8"/><rect x="173.9" y="11.4" width="3" height="5.2"/></g>
<path d="M210.6,16.2 L214.2,11.4 L216,16.8 L220.6,9.6 M212.2,17.6 L214.6,14.4 L216.6,19.8 L221.4,12.2" fill="none" stroke="#8c8c8c" stroke-width="0.9"/>
<path d="M286.3,9.5 Q282.6,14.5 286.3,19.5 M290.7,9.5 Q294.4,14.5 290.7,19.5" fill="none" stroke="#8c8c8c" stroke-width="0.9"/>
<path d="M290,10.8 Q288.5,10.3 288.3,12 L288.3,18 M286.6,13.4 L290,13.4" fill="none" stroke="#8c8c8c" stroke-width="0.9"/>
<rect x="362.5" y="10.2" width="9" height="9" fill="none" stroke="#8c8c8c" stroke-width="1"/><rect x="362.5" y="10.2" width="9" height="2.2" fill="#8c8c8c"/>
<rect x="366.9" y="13.700000000000001" width="1.2" height="1.2" fill="#8c8c8c"/>
<rect x="369.2" y="13.700000000000001" width="1.2" height="1.2" fill="#8c8c8c"/>
<rect x="364.7" y="16.0" width="1.2" height="1.2" fill="#8c8c8c"/>
<rect x="366.9" y="16.0" width="1.2" height="1.2" fill="#8c8c8c"/>
<rect x="369.2" y="16.0" width="1.2" height="1.2" fill="#8c8c8c"/>
<line x1="409.6" y1="10.5" x2="409.6" y2="19.6" stroke="#cfcfcf" stroke-width="1"/>
<line x1="412" y1="9.1" x2="412" y2="19.6" stroke="#cfcfcf" stroke-width="1"/>
<line x1="414.5" y1="12.6" x2="414.5" y2="19.6" stroke="#cfcfcf" stroke-width="1"/>
<line x1="416.6" y1="14.7" x2="416.6" y2="19.6" stroke="#cfcfcf" stroke-width="1"/>
<path d="M903,19.2 Q900.8,19.2 900.8,16.8 Q900.8,14.6 903.2,14.4 Q904.2,10.8 908,10.8 Q911.6,10.8 912.2,14.2 Q914.8,14.4 914.8,16.8 Q914.8,19.2 912.4,19.2 Z" fill="#3b89c0"/>
<path d="M905.6,15.8 L907.4,17.4 L910.2,14.4" fill="none" stroke="#dff0ff" stroke-width="0.9"/>
<g transform="translate(988.8,15)" fill="#4f6a78" stroke="#4f6a78" stroke-width="1.1"><g transform="rotate(0)"><line x1="-4.8" y1="-4.8" x2="-2.4" y2="-2.4"/><path d="M-1.3,-1.3 L-4,-1.6 L-1.6,-4 Z" stroke-width="0.4"/></g><g transform="rotate(90)"><line x1="-4.8" y1="-4.8" x2="-2.4" y2="-2.4"/><path d="M-1.3,-1.3 L-4,-1.6 L-1.6,-4 Z" stroke-width="0.4"/></g><g transform="rotate(180)"><line x1="-4.8" y1="-4.8" x2="-2.4" y2="-2.4"/><path d="M-1.3,-1.3 L-4,-1.6 L-1.6,-4 Z" stroke-width="0.4"/></g><g transform="rotate(270)"><line x1="-4.8" y1="-4.8" x2="-2.4" y2="-2.4"/><path d="M-1.3,-1.3 L-4,-1.6 L-1.6,-4 Z" stroke-width="0.4"/></g></g>
<path d="M17.6,39.6 L12.6,44.5 L17.6,49.4" fill="none" stroke="#a8a8a8" stroke-width="1"/>
<line x1="0" y1="59.5" x2="30" y2="59.5" stroke="#eeeeee" stroke-width="1"/>
<path d="M10,73.8 L20,73.8 M15,68.8 L15,78.8" fill="none" stroke="#c4c4c4" stroke-width="0.9"/>
<line x1="4" y1="88.5" x2="26" y2="88.5" stroke="#d4d4d4" stroke-width="1"/>
<g fill="none" stroke="#8c8c8c" stroke-width="0.9"><line x1="10" y1="107.4" x2="18.7" y2="98.9"/><circle cx="9.2" cy="108.2" r="1.2"/><circle cx="19.6" cy="98" r="1.2"/></g>
<g fill="none" stroke="#8c8c8c" stroke-width="0.9"><path d="M8.2,135.8 L11,130.6 Q13.6,128.6 16,130.6 Q17,133.6 14,135.8 Z"/><path d="M15.6,130.4 L19.2,127.4 Q21.6,126.8 22.6,128.4"/></g>
<g fill="none" stroke="#8c8c8c" stroke-width="0.9"><path d="M9.8,158 L20.4,155.6 M9.8,162 L22,159.2 M8,166.4 L22.6,163"/><circle cx="8.6" cy="158.2" r="1.2"/><circle cx="8.6" cy="162.2" r="1.2"/><circle cx="21.4" cy="155.2" r="1.2"/></g>
<g fill="none" stroke="#8c8c8c" stroke-width="0.9"><path d="M11.2,185.2 L21.4,182.4 L18.9,191.4 L8.2,195.6 Z M11.2,185.2 L18.9,191.4"/><circle cx="11.2" cy="185.2" r="1.1"/><circle cx="21.4" cy="182.4" r="1.1"/><circle cx="18.9" cy="191.4" r="1.1"/><circle cx="8.2" cy="195.6" r="1.1"/></g>
<g fill="none" stroke="#8c8c8c" stroke-width="0.9"><path d="M9.4,213.2 L22,213.2 M9.4,216.2 L19.4,216.2 M9.4,221.9 L22,221.9 M15.6,212 L15.6,223"/><circle cx="8.2" cy="213.2" r="1.1"/><circle cx="8.2" cy="216.2" r="1.1"/><circle cx="8.2" cy="221.9" r="1.1"/><circle cx="20.6" cy="216.2" r="1.1"/></g>
<path d="M10.7,241.6 L20.6,241.6 M15.6,241.6 L15.6,251.5 M14,251.5 L17.2,251.5" fill="none" stroke="#8c8c8c" stroke-width="1"/>
<path d="M10.5,281 L10.5,276 Q10.5,270.8 15.2,270.8 Q20,270.8 20,276 L20,281 M13.2,281 L13.2,276 Q13.2,273.4 15.2,273.4 Q17.4,273.4 17.4,276 L17.4,281 M10,281.2 L13.6,281.2 M17,281.2 L20.6,281.2" fill="none" stroke="#8c8c8c" stroke-width="0.9"/>
<line x1="1" y1="290.5" x2="26" y2="290.5" stroke="#dcdcdc" stroke-width="1"/>
<g fill="none" stroke="#8c8c8c" stroke-width="0.9"><rect x="7.8" y="305" width="14.2" height="5"/><path d="M8,299.6 L8,305 M8,302.3 L18.6,302.3 M16.8,301 L18.6,302.3 L16.8,303.6"/></g>
<g fill="none" stroke="#8c8c8c" stroke-width="0.9"><circle cx="13.8" cy="332.4" r="3.8"/><path d="M16.6,335.2 L19.8,338.6 M11.9,332.4 L15.7,332.4 M13.8,330.5 L13.8,334.3"/></g>
<line x1="2" y1="349.5" x2="27" y2="349.5" stroke="#e4e4e4" stroke-width="1"/>
<line x1="2" y1="379.5" x2="27" y2="379.5" stroke="#e4e4e4" stroke-width="1"/>
<line x1="2" y1="407.5" x2="27" y2="407.5" stroke="#e4e4e4" stroke-width="1"/>
<line x1="2" y1="437.5" x2="27" y2="437.5" stroke="#e4e4e4" stroke-width="1"/>
<g fill="none" stroke="#a4a4a4" stroke-width="0.9"><rect x="9.6" y="360.4" width="11" height="9" rx="2.5"/><path d="M12.4,360.4 Q12.4,357.6 15.1,357.6 Q17.8,357.6 17.8,360.4"/></g>
<g fill="none" stroke="#8c8c8c" stroke-width="1"><path d="M17,388.6 L10.2,388.6 L10.2,399 L17.4,399"/><path d="M13,395.6 L13.6,393 L19.4,387.2 L21,388.8 L15.2,394.6 Z"/></g><rect x="17.8" y="394.6" width="3.8" height="4.6" fill="#7a7a7a"/>
<path d="M7.6,422.4 Q15,414.4 22.4,422.4 Q15,430.4 7.6,422.4 Z" fill="#8a8a95"/><circle cx="15" cy="422.4" r="2.6" fill="none" stroke="#fff" stroke-width="1.1"/>
<g fill="none" stroke="#a8a8a8" stroke-width="1"><path d="M11,448 L19,448 M13.4,448 L13.4,446.4 L16.6,446.4 L16.6,448"/><rect x="11.8" y="449.2" width="6.6" height="7"/><path d="M14,450.6 L14,455 M16.2,450.6 L16.2,455"/></g>
<g fill="none" stroke="#a0a0a0" stroke-width="0.9"><path d="M977.5,467.6 L991,467.6 M977.5,471 L991,471 M977.5,474.4 L991,474.4"/><circle cx="987" cy="467.6" r="1.3" fill="#fff"/><circle cx="981.5" cy="471" r="1.3" fill="#fff"/><circle cx="985" cy="474.4" r="1.3" fill="#fff"/></g>
<g fill="none" stroke="#a0a0a0" stroke-width="0.9"><rect x="175.4" y="485.4" width="8" height="9"/><path d="M175.4,487.8 L183.4,487.8 M177.4,484 L177.4,486 M181.4,484 L181.4,486 M177,490 L181.8,490 M177,492.4 L181.8,492.4"/></g>
</svg>
</body></html>
